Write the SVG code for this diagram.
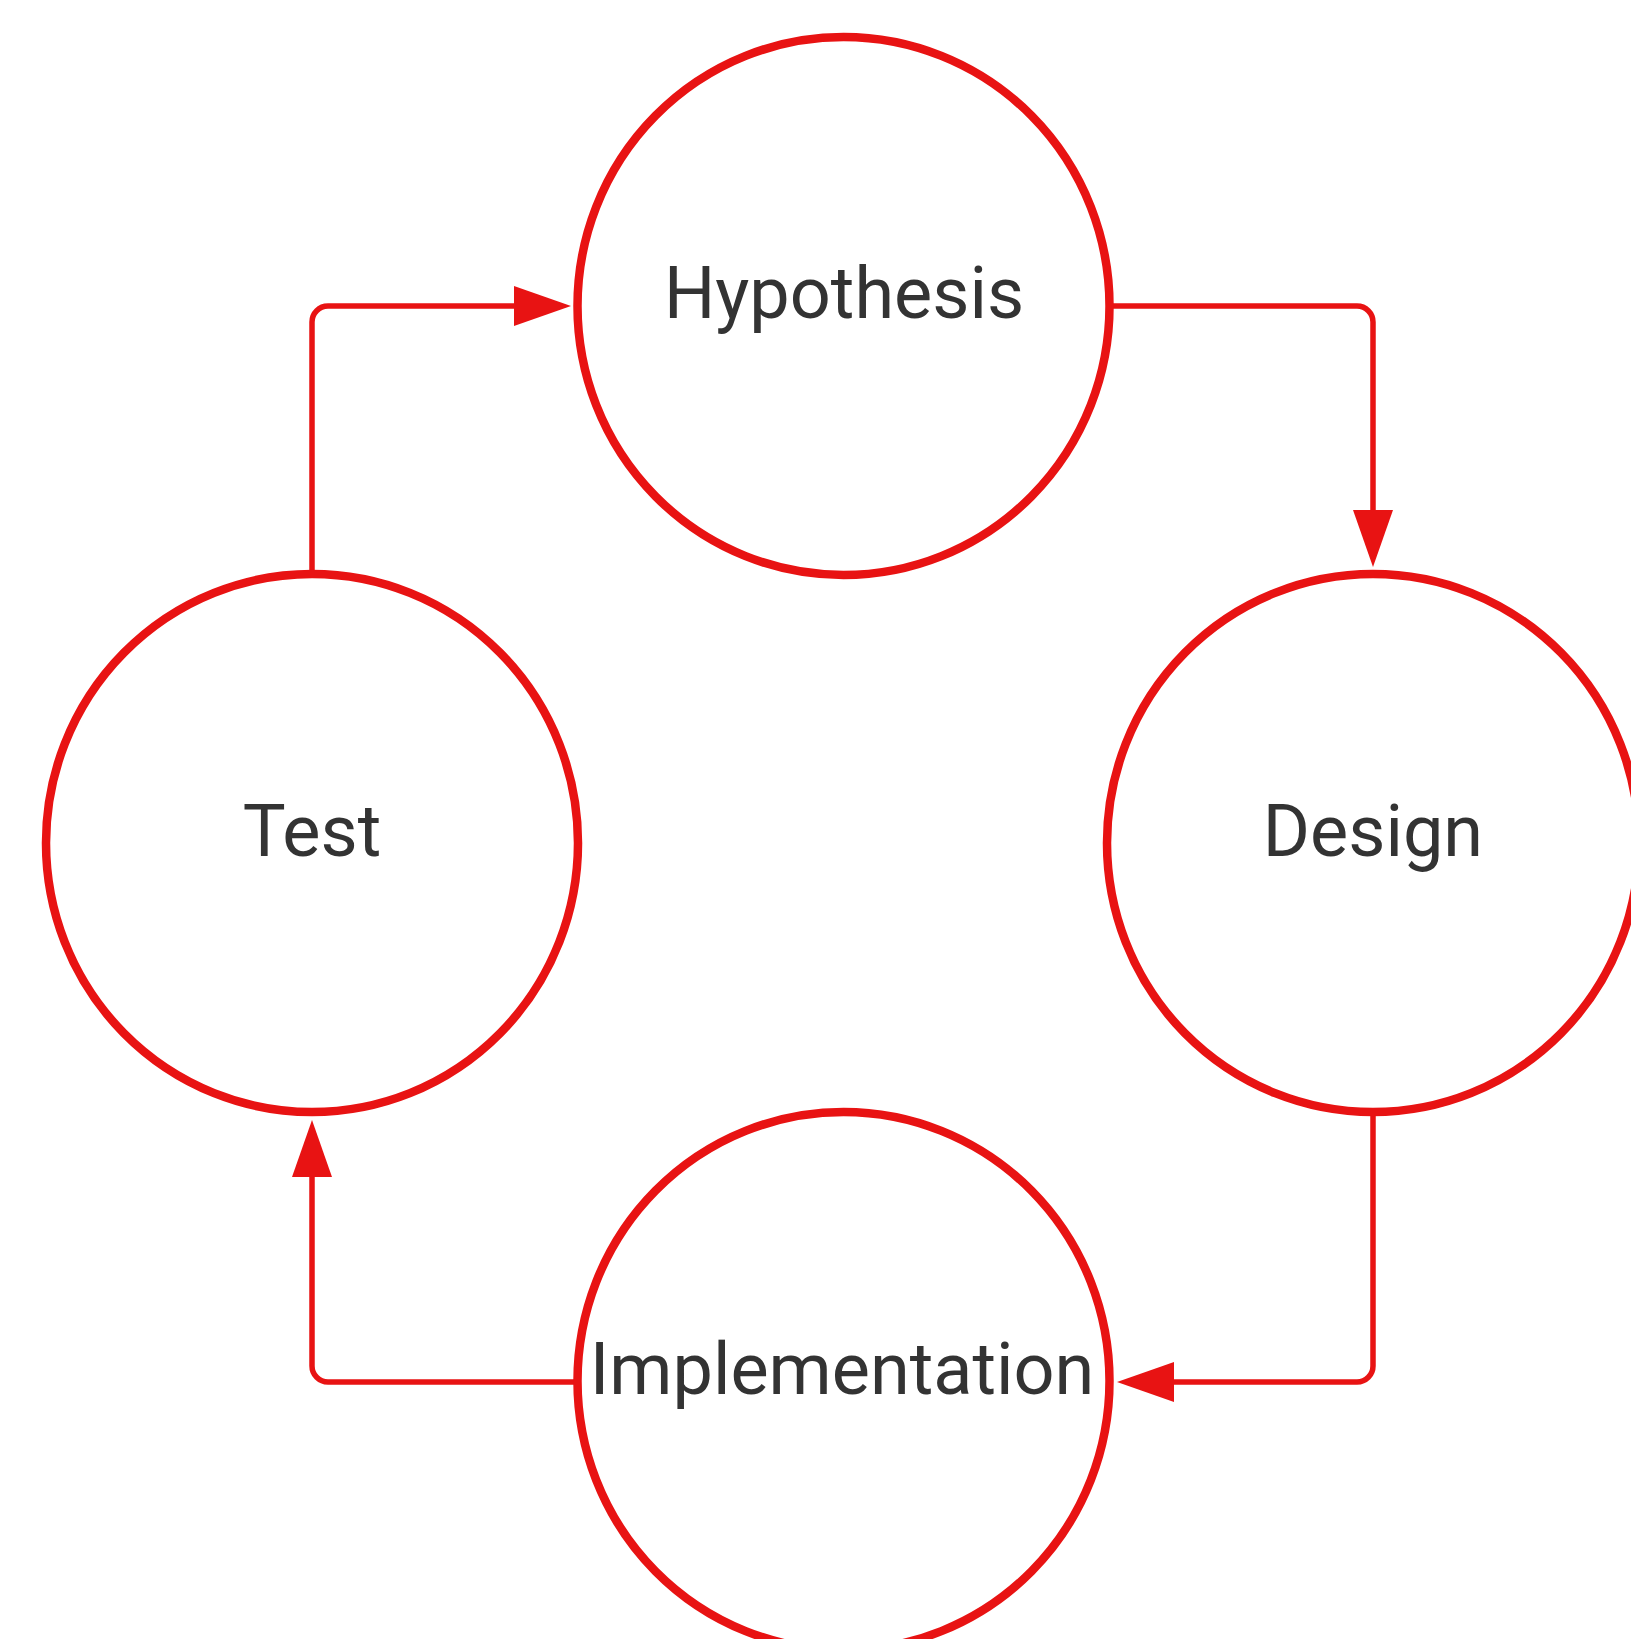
<svg xmlns="http://www.w3.org/2000/svg" width="1631" height="1639" viewBox="0 0 1631 1639">
  <style>
    .node ellipse { fill: #ffffff; stroke: #e81313; stroke-width: 8.5; }
    .node text { font-family: Roboto, "Liberation Sans", Arial, sans-serif; font-size: 72px; fill: #333333; text-anchor: middle; }
    .edge { fill: none; stroke: #e81313; stroke-width: 5.5; marker-end: url(#arrow); }
  </style>
  <defs>
    <marker id="arrow" markerUnits="userSpaceOnUse" markerWidth="58" markerHeight="40" refX="0" refY="20" orient="auto" overflow="visible">
      <path d="M0,0 L57,20 L0,40 Z" fill="#e81313"/>
    </marker>
  </defs>
  <rect width="1631" height="1639" fill="#ffffff"/>

  <g id="connectors">
    <!-- Hypothesis to Design -->
    <path class="edge" d="M1112,306 H1357 A16,16 0 0 1 1373,322 V510"/>
    <!-- Design to Implementation -->
    <path class="edge" d="M1373,1112 V1366 A16,16 0 0 1 1357,1382 H1174"/>
    <!-- Implementation to Test -->
    <path class="edge" d="M574,1382 H328 A16,16 0 0 1 312,1366 V1177"/>
    <!-- Test to Hypothesis -->
    <path class="edge" d="M312,574 V322 A16,16 0 0 1 328,306 H514"/>
  </g>

  <g id="hypothesis" class="node">
    <ellipse cx="843.5" cy="306" rx="266" ry="269"/>
    <text x="844" y="318">Hypothesis</text>
  </g>
  <g id="design" class="node">
    <ellipse cx="1373" cy="843" rx="266" ry="269"/>
    <text x="1373" y="856">Design</text>
  </g>
  <g id="implementation" class="node">
    <ellipse cx="843.5" cy="1381" rx="266" ry="269"/>
    <text x="842" y="1394">Implementation</text>
  </g>
  <g id="test" class="node">
    <ellipse cx="312" cy="843" rx="266" ry="269"/>
    <text x="312" y="856">Test</text>
  </g>
</svg>
